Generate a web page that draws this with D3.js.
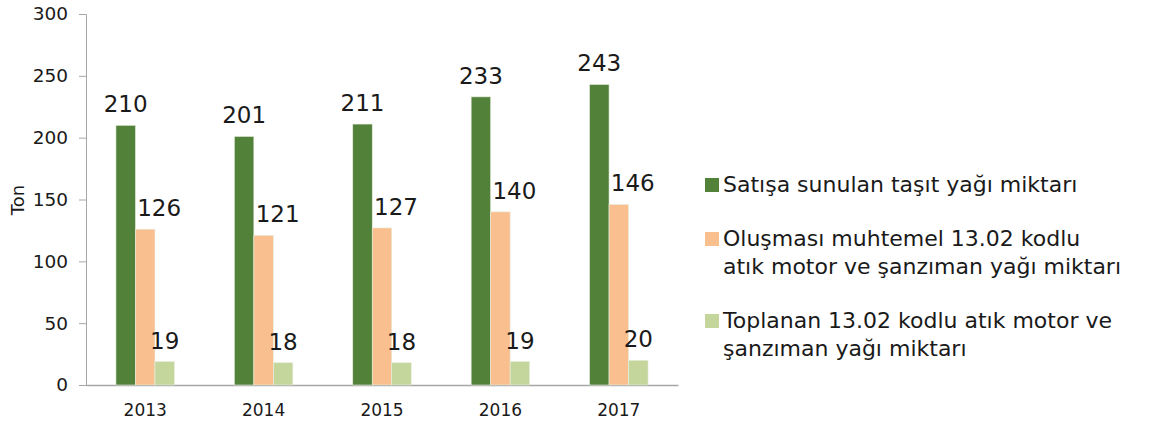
<!DOCTYPE html>
<html>
<head>
<meta charset="utf-8">
<script src="https://cdn.jsdelivr.net/npm/d3@7"></script>
<style>
  body { margin: 0; background: #fff; }
  text { font-family: "DejaVu Sans", sans-serif; fill: #1a1a1a; }
</style>
</head>
<body>
<script>
var years = ["2013", "2014", "2015", "2016", "2017"];
var seriesNames = [
  ["Satışa sunulan taşıt yağı miktarı"],
  ["Oluşması muhtemel 13.02 kodlu", "atık motor ve şanzıman yağı miktarı"],
  ["Toplanan 13.02 kodlu atık motor ve", "şanzıman yağı miktarı"]
];
var satis = [210, 201, 211, 233, 243];
var olusma = [126, 121, 127, 140, 146];
var toplanan = [19, 18, 18, 19, 20];
var yTicks = [0, 50, 100, 150, 200, 250, 300];

var colors = ["#52813a", "#f9bf8f", "#c4d69b"];
var series = [satis, olusma, toplanan];

var width = 1151, height = 428;
var plot = { left: 86, right: 678, top: 14, bottom: 385 };

var svg = d3.select("body").append("svg")
  .attr("width", width)
  .attr("height", height);

var x0 = d3.scaleBand()
  .domain(years)
  .range([plot.left, plot.right]);

var x1 = d3.scaleBand()
  .domain([0, 1, 2])
  .range([0, 58.5]);

var y = d3.scaleLinear()
  .domain([0, 300])
  .range([plot.bottom, plot.top]);

// y axis
var yAxis = svg.append("g")
  .attr("transform", `translate(${plot.left},0)`)
  .call(d3.axisLeft(y).tickValues(yTicks).tickSize(7).tickPadding(11));
yAxis.selectAll("line, path").attr("stroke", "#a6a6a6");
yAxis.selectAll("text").style("font-size", "18.5px").style("font-family", "DejaVu Sans").attr("fill", "#1a1a1a");

// x axis
var xAxis = svg.append("g")
  .attr("transform", `translate(0,${plot.bottom})`)
  .call(d3.axisBottom(x0).tickSize(0).tickPadding(19).tickSizeOuter(0));
xAxis.selectAll("path").attr("stroke", "#a6a6a6").attr("stroke-width", 1.5);
xAxis.selectAll("text").style("font-size", "17px").style("font-family", "DejaVu Sans").attr("fill", "#1a1a1a");

svg.append("text")
  .attr("transform", "translate(24,200) rotate(-90)")
  .attr("text-anchor", "middle")
  .style("font-size", "18px")
  .text("Ton");

var groupOffset = (x0.bandwidth() - 58.5) / 2;

series.forEach(function (vals, s) {
  var g = svg.append("g");
  g.selectAll("rect")
    .data(vals)
    .enter()
    .append("rect")
    .attr("x", function (d, i) { return x0(years[i]) + groupOffset + x1(s); })
    .attr("y", function (d) { return y(d); })
    .attr("width", x1.bandwidth())
    .attr("height", function (d) { return plot.bottom - y(d); })
    .attr("fill", colors[s])
    .attr("stroke", "#e8eedf")
    .attr("stroke-width", 0.6);

  g.selectAll("text")
    .data(vals)
    .enter()
    .append("text")
    .attr("x", function (d, i) {
      var bx = x0(years[i]) + groupOffset + x1(s) + x1.bandwidth() / 2;
      return s === 1 ? bx + 14 : bx;
    })
    .attr("y", function (d) { return y(d) - 13; })
    .attr("text-anchor", "middle")
    .style("font-size", "23px")
    .text(function (d) { return d; });
});

// legend
var legendY = [192, 246, 328];
var legend = svg.append("g");
seriesNames.forEach(function (lines, s) {
  legend.append("rect")
    .attr("x", 705)
    .attr("y", legendY[s] - 14)
    .attr("width", 14)
    .attr("height", 14)
    .attr("fill", colors[s]);
  var t = legend.append("text")
    .attr("x", 723)
    .attr("y", legendY[s])
    .style("font-size", "22px");
  lines.forEach(function (line, k) {
    t.append("tspan")
      .attr("x", 723)
      .attr("dy", k === 0 ? 0 : 28)
      .text(line);
  });
});
</script>
</body>
</html>
